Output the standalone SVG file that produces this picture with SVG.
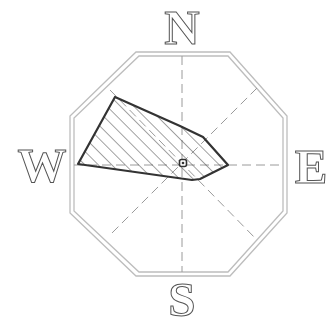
<svg xmlns="http://www.w3.org/2000/svg" width="336" height="327" viewBox="0 0 336 327">
<style>
.oct{fill:none;stroke:#bdbdbd;stroke-width:1.3}
.dash{stroke:#9a9a9a;stroke-width:1;stroke-dasharray:9 5;fill:none}
.lbl{font-family:"Liberation Serif",serif;font-size:49px;font-weight:bold;fill:#fff;stroke:#555;stroke-width:1;text-anchor:middle}
.hatch{stroke:#444;stroke-width:1}
</style>
<defs>
<pattern id="h" patternUnits="userSpaceOnUse" width="9.5" height="9.5" patternTransform="rotate(-45)">
<line x1="0" y1="0" x2="0" y2="9.5" class="hatch"/>
</pattern>
</defs>
<rect width="336" height="327" fill="#fff"/>
<g id="octagon">
<polygon points="136,52 230,52 287,116 287,213 230,276 136,276 70,213 70,116" fill="#f6f6f6" class="oct"/>
<polygon points="139,56 228,56 283,118 283,211 228,272 139,272 74,211 74,118" fill="#fbfbfb" class="oct"/>
</g>
<g id="connectors">
<line x1="182" y1="56" x2="182" y2="272" class="dash"/>
<line x1="74" y1="165" x2="283" y2="165" class="dash"/>
<line x1="110" y1="90" x2="257" y2="240" class="dash"/>
<line x1="257" y1="88" x2="110" y2="235" class="dash"/>
</g>
<g id="area">
<polygon points="115,97 180,126 203,137 228,165 200,179 192,180 78,164" fill="url(#h)" stroke="#333" stroke-width="2.2" stroke-linejoin="round"/>
</g>
<g id="center">
<rect x="179.5" y="159.5" width="7" height="7" rx="2" fill="#fff" stroke="#333" stroke-width="1.6"/>
<circle cx="183" cy="163" r="1.3" fill="#333"/>
</g>
<g id="N"><text x="182" y="44" class="lbl">N</text></g>
<g id="S"><text x="182" y="316" class="lbl">S</text></g>
<g id="W"><text x="42" y="182" class="lbl">W</text></g>
<g id="E"><text x="311" y="183" class="lbl">E</text></g>
</svg>
